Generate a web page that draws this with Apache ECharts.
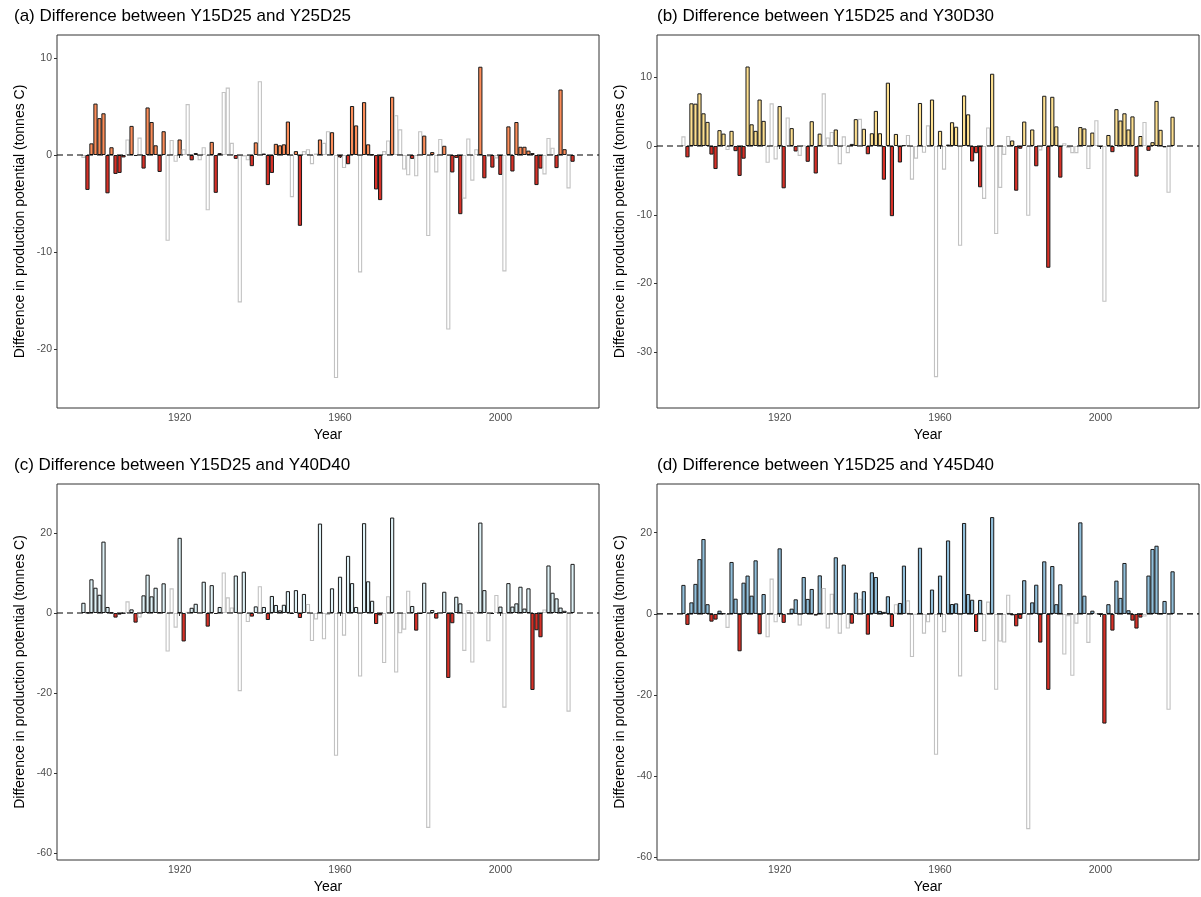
<!DOCTYPE html>
<html>
<head>
<meta charset="utf-8">
<script src="https://cdn.jsdelivr.net/npm/echarts@6/dist/echarts.min.js"></script>
<style>
  html, body { margin: 0; padding: 0; background: #ffffff; }
  #chart { width: 1201px; height: 897px; }
</style>
</head>
<body>
<div id="chart"></div>
<script>
// Annual difference in production potential (tonnes C), one value per year from firstYear.
const firstYear = 1896;

// (a) Y15D25 vs Y25D25
const diffA = [
  -0.3, -3.6, 1.2, 5.3, 3.8, 4.3, -3.95, 0.8, -1.95, -1.85,
  -0.25, 1.6, 3.0, -0.1, 1.8, -1.4, 4.9, 3.4, 1.0, -1.75,
  2.45, -8.85, 1.55, -0.7, 1.6, 0.6, 5.25, -0.55, 0.2, -0.55,
  0.8, -5.7, 1.35, -3.9, 0.2, 6.5, 6.95, 1.25, -0.4, -15.2,
  -0.15, -0.55, -1.15, 1.3, 7.6, 0.15, -3.1, -1.85, 1.15, 1.0,
  1.1, 3.45, -4.35, 0.4, -7.3, 0.4, 0.6, -0.95, 0.15, 1.6,
  1.25, 2.45, 2.35, -23.0, -0.25, -1.35, -0.95, 5.05, 3.05, -12.1,
  5.45, 1.1, 0.05, -3.55, -4.65, 0.4, 1.5, 6.0, 4.1, 2.65,
  -1.5, -2.1, -0.4, -2.2, 2.45, 2.0, -8.35, 0.3, -1.8, 1.65,
  0.95, -18.0, -1.8, -0.3, -6.1, -4.5, 1.7, -2.65, 0.6, 9.1,
  -2.4, -0.2, -1.3, -0.35, -2.05, -12.0, 2.95, -1.7, 3.4, 0.85,
  0.85, 0.45, 0.2, -3.1, -1.4, -2.0, 1.75, 0.75, -1.35, 6.75,
  0.6, -3.45, -0.7
];
// 1 = highlighted year (filled bar), 0 = other year (hollow grey bar)
const sigA = [
  0,1,1,1,1,1,1,1,1,1,
  1,0,1,1,0,1,1,1,1,1,
  1,0,0,0,1,0,0,1,1,0,
  0,0,1,1,1,0,0,0,1,0,
  0,0,1,1,0,1,1,1,1,1,
  1,1,0,1,1,0,0,0,0,1,
  0,0,1,0,1,0,1,1,1,0,
  1,1,1,1,1,0,0,1,0,0,
  0,0,1,0,0,1,0,1,0,0,
  1,0,1,1,1,0,0,0,0,1,
  1,0,1,0,1,0,1,1,1,1,
  1,1,1,1,1,0,0,0,1,1,
  1,0,1
];

// (b) Y15D25 vs Y30D30
const diffB = [
  1.4, -1.65, 6.2, 6.15, 7.65, 4.75, 3.5, -1.25, -3.35, 2.3,
  1.8, -0.6, 2.2, -0.75, -4.35, -1.85, 11.55, 3.15, 2.2, 6.75,
  3.65, -2.45, 6.2, -1.95, 5.8, -6.15, 4.15, 2.6, -0.8, -1.45,
  0.05, -2.3, 3.6, -4.0, 1.8, 7.65, 1.25, 2.05, 2.4, -2.65,
  1.4, -1.05, 0.3, 3.9, 3.95, 2.5, -1.2, 1.85, 5.1, 1.85,
  -4.9, 9.2, -10.2, 1.75, -2.4, 0.1, 1.6, -4.9, -1.85, 6.25,
  -1.0, 3.0, 6.75, -33.6, 2.2, -3.45, 0.2, 3.45, 2.8, -14.5,
  7.35, 4.6, -2.25, -1.05, -6.0, -7.7, 2.7, 10.5, -12.8, -6.1,
  -1.3, 1.45, 0.8, -6.5, -0.4, 3.55, -10.15, 2.4, -2.95, -0.65,
  7.3, -17.7, 7.15, 2.85, -4.6, 0.4, -0.3, -1.05, -1.05, 2.75,
  2.55, -3.35, 1.95, 3.75, -0.15, -22.65, 1.6, -0.9, 5.35, 3.7,
  4.75, 2.4, 4.3, -4.45, 1.45, 3.5, -0.7, 0.55, 6.55, 2.35,
  -0.2, -6.8, 4.25
];
const sigB = [
  0,1,1,1,1,1,1,1,1,1,
  1,0,1,1,1,1,1,1,1,1,
  1,0,0,0,1,1,0,1,1,0,
  0,1,1,1,1,0,0,0,1,0,
  0,0,1,1,0,1,1,1,1,1,
  1,1,1,1,1,1,0,0,0,1,
  0,0,1,0,1,0,1,1,1,0,
  1,1,1,1,1,0,0,1,0,0,
  0,0,1,1,1,1,0,1,1,0,
  1,1,1,1,1,0,0,0,0,1,
  1,0,1,0,1,0,1,1,1,1,
  1,1,1,1,1,0,1,1,1,1,
  1,0,1
];

// (c) Y15D25 vs Y40D40
const diffC = [
  2.55, 0.1, 8.4, 6.3, 4.55, 17.8, 1.5, 0.1, -1.15, -0.4,
  -0.1, 2.9, 0.9, -2.4, -1.15, 4.4, 9.55, 4.15, 6.3, 0.2,
  7.4, -9.6, 6.15, -3.65, 18.75, -7.1, 0.3, 1.3, 2.3, 0.2,
  7.8, -3.4, 6.95, -0.25, 1.5, 10.1, 3.9, 1.4, 9.35, -19.5,
  10.3, -2.25, -0.9, 1.65, 6.7, 1.5, -1.75, 4.25, 2.0, 0.65,
  2.05, 5.45, -0.2, 5.7, -1.25, 4.75, 2.25, -7.0, -1.6, 22.3,
  -6.55, -0.5, 6.15, -35.6, 9.05, -5.65, 14.25, 7.45, 1.5, -15.85,
  22.4, 7.9, 3.05, -2.75, -0.6, -12.5, 4.2, 23.8, -14.85, -5.05,
  -4.15, 5.55, 1.75, -4.4, -0.25, 7.55, -53.6, 0.75, -1.4, 0.2,
  5.3, -16.2, -2.55, 4.05, 2.4, -9.45, 0.75, -12.35, 0.3, 22.55,
  5.7, -7.05, -0.25, 4.5, 1.6, -23.6, 7.45, 1.6, 2.4, 6.55,
  1.1, 6.15, -19.2, -4.3, -6.05, 0.9, 11.85, 5.05, 3.65, 1.35,
  0.55, -24.6, 12.25
];
const sigC = [
  1,1,1,1,1,1,1,1,1,1,
  1,0,1,1,0,1,1,1,1,1,
  1,0,0,0,1,1,0,1,1,0,
  1,1,1,1,1,0,0,0,1,0,
  1,0,1,1,0,1,1,1,1,1,
  1,1,1,1,1,1,0,0,0,1,
  0,0,1,0,1,0,1,1,1,0,
  1,1,1,1,1,0,0,1,0,0,
  0,0,1,1,1,1,0,1,1,0,
  1,1,1,1,1,0,0,0,0,1,
  1,0,1,0,1,0,1,1,1,1,
  1,1,1,1,1,0,1,1,1,1,
  1,0,1
];

// (d) Y15D25 vs Y45D40
const diffD = [
  7.15, -2.7, 2.85, 7.4, 13.5, 18.45, 2.4, -1.9, -1.4, 0.8,
  0.1, -3.45, 12.8, 3.75, -9.2, 7.7, 9.45, 4.5, 13.2, -5.0,
  4.9, -5.75, 8.7, -2.05, 16.15, -2.2, 0.1, 1.3, 3.6, -2.85,
  9.1, 3.7, 6.15, -0.4, 9.5, 6.4, -3.6, 5.0, 13.95, -4.85,
  12.15, -3.6, -2.4, 5.25, 3.75, 5.6, -5.1, 10.25, 9.1, 0.75,
  0.5, 4.35, -3.2, 2.4, 2.7, 11.9, 3.35, -10.6, -0.2, 16.3,
  -4.85, -2.05, 6.0, -34.7, 9.45, -4.5, 18.1, 2.45, 2.6, -15.4,
  22.4, 4.9, 3.5, -4.45, 3.45, -6.7, 3.05, 23.85, -18.7, -6.8,
  -7.05, 4.75, -0.35, -3.05, -1.2, 8.3, -53.0, 2.85, 7.2, -7.05,
  12.95, -18.7, 11.8, 2.4, 7.3, -10.0, -0.55, -15.25, -2.4, 22.55,
  4.5, -7.15, 0.8, 0.1, -0.2, -27.0, 2.4, -4.1, 8.2, 3.95,
  12.55, 0.9, -1.65, -3.6, -0.9, -0.65, 9.45, 16.0, 16.8, 0.15,
  3.2, -23.6, 10.5
];
const sigD = [
  1,1,1,1,1,1,1,1,1,1,
  1,0,1,1,1,1,1,1,1,1,
  1,0,0,0,1,1,0,1,1,0,
  1,1,1,1,1,0,0,0,1,0,
  1,0,1,1,0,1,1,1,1,1,
  1,1,1,0,1,1,0,0,0,1,
  0,0,1,0,1,0,1,1,1,0,
  1,1,1,1,1,0,0,1,0,0,
  0,0,1,1,1,1,0,1,1,1,
  1,1,1,1,1,0,0,0,0,1,
  1,0,1,0,1,1,1,1,1,1,
  1,1,1,1,1,0,1,1,1,1,
  1,0,1
];

const panelTitles = [
  '(a) Difference between Y15D25 and Y25D25',
  '(b) Difference between Y15D25 and Y30D30',
  '(c) Difference between Y15D25 and Y40D40',
  '(d) Difference between Y15D25 and Y45D40'
];
const xTicks = [1920, 1960, 2000];
const yTicksA = [-20, -10, 0, 10];
const yTicksB = [-30, -20, -10, 0, 10];
const yTicksC = [-60, -40, -20, 0, 20];
const yTicksD = [-60, -40, -20, 0, 20];

const yTitle = 'Difference in production potential (tonnes C)';
const xTitle = 'Year';

// ---- styling and layout ----
const FONT = '"Liberation Sans", Arial, Helvetica, sans-serif';
const NEG_FILL = '#D73027';
const GREY_LINE = '#C2C2C2';

const panels = [
  { diff: diffA, sig: sigA, ticks: yTicksA, pos: '#FC8D59', yMin: -26.08, yMax: 12.37,
    grid: { left: 57, top: 35, width: 542, height: 373 }, title: [14, 8] },
  { diff: diffB, sig: sigB, ticks: yTicksB, pos: '#FEE090', yMin: -38.08, yMax: 16.13,
    grid: { left: 657, top: 35, width: 542, height: 373 }, title: [657, 8] },
  { diff: diffC, sig: sigC, ticks: yTicksC, pos: '#E0F3F8', yMin: -61.6, yMax: 32.17,
    grid: { left: 57, top: 484, width: 542, height: 376 }, title: [14, 457] },
  { diff: diffD, sig: sigD, ticks: yTicksD, pos: '#91BFDB', yMin: -60.6, yMax: 32.0,
    grid: { left: 657, top: 484, width: 542, height: 376 }, title: [657, 457] }
];

const X_MIN = 1889.405;
const X_MAX = 2024.595;

const plainNumber = v => String(Math.round(v));

const grids = [], xAxes = [], yAxes = [], series = [], titles = [];

panels.forEach((p, i) => {
  grids.push(Object.assign({ show: true, borderColor: '#333333', borderWidth: 1,
    backgroundColor: '#ffffff', containLabel: false }, p.grid));

  titles.push({
    text: panelTitles[i], left: p.title[0], top: p.title[1], padding: 0,
    textStyle: { fontFamily: FONT, fontSize: 17, fontWeight: 'normal', color: '#000000' }
  });

  xAxes.push({
    type: 'value', gridIndex: i, min: X_MIN, max: X_MAX,
    name: xTitle, nameLocation: 'middle', nameGap: 20,
    nameTextStyle: { fontFamily: FONT, fontSize: 14, color: '#000000' },
    splitLine: { show: false },
    axisLine: { show: false },
    axisTick: { show: true, length: 3, lineStyle: { color: '#333333', width: 1 }, customValues: xTicks },
    axisLabel: { fontFamily: FONT, fontSize: 10.5, color: '#4D4D4D', margin: 5,
      customValues: xTicks, formatter: plainNumber }
  });

  yAxes.push({
    type: 'value', gridIndex: i, min: p.yMin, max: p.yMax,
    name: yTitle, nameLocation: 'middle', nameGap: 30, nameRotate: 90,
    nameTextStyle: { fontFamily: FONT, fontSize: 14, color: '#000000' },
    splitLine: { show: false },
    axisLine: { show: false },
    axisTick: { show: true, length: 3, lineStyle: { color: '#333333', width: 1 }, customValues: p.ticks },
    axisLabel: { fontFamily: FONT, fontSize: 10.5, color: '#4D4D4D', margin: 5,
      customValues: p.ticks, formatter: plainNumber }
  });

  const data = p.diff.map((v, k) => {
    const filled = p.sig[k] === 1;
    return {
      value: [firstYear + k, v],
      itemStyle: filled
        ? { color: v >= 0 ? p.pos : NEG_FILL, borderColor: '#1A1A1A', borderWidth: 1 }
        : { color: '#ffffff', borderColor: GREY_LINE, borderWidth: 1.1 }
    };
  });

  series.push({
    type: 'bar', xAxisIndex: i, yAxisIndex: i,
    barWidth: 4.2, data: data, z: 2, silent: true
  });

  // dashed reference line at zero across the panel
  series.push({
    type: 'line', xAxisIndex: i, yAxisIndex: i, z: 5, silent: true,
    symbol: 'none',
    data: [[X_MIN, 0], [X_MAX, 0]],
    lineStyle: { color: '#000000', width: 1.2, type: [6, 4] }
  });
});

const chart = echarts.init(document.getElementById('chart'), null, { renderer: 'canvas' });
chart.setOption({
  animation: false,
  backgroundColor: '#ffffff',
  title: titles,
  grid: grids,
  xAxis: xAxes,
  yAxis: yAxes,
  series: series
});
</script>
</body>
</html>
